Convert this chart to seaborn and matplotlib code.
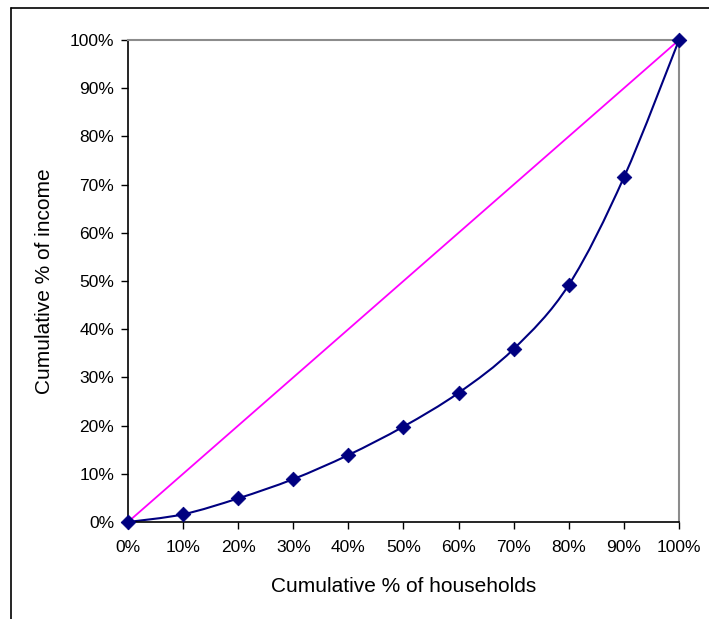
import numpy as np
import pandas as pd
import seaborn as sns
import matplotlib.pyplot as plt
from matplotlib.path import Path
from matplotlib.patches import PathPatch
from matplotlib.lines import Line2D
from matplotlib.ticker import PercentFormatter

# cumulative shares (fractions)
households = [0.0, 0.1, 0.2, 0.3, 0.4, 0.5, 0.6, 0.7, 0.8, 0.9, 1.0]
income = [0.0, 0.016, 0.049, 0.089, 0.139, 0.198, 0.268, 0.359, 0.492, 0.715, 1.0]
equality = [0.0, 1.0]

df = pd.DataFrame({"households": households, "income": income})
eq = pd.DataFrame({"x": equality, "y": equality})

sns.set_style("white")
plt.rcParams["font.family"] = ["Liberation Sans", "DejaVu Sans"]
plt.rcParams["text.color"] = "black"
plt.rcParams["axes.labelcolor"] = "black"

fig = plt.figure(figsize=(7.09, 6.19), dpi=100)
ax = fig.add_axes([0.1805, 0.1567, 0.7772, 0.7787])

sns.lineplot(data=eq, x="x", y="y", color="#FF00FF", lw=1.3, ax=ax)

# smoothed curve (Catmull-Rom -> cubic bezier) like Excel's smoothed line
x = np.array(households)
y = np.array(income)
verts = [(x[0], y[0])]
codes = [Path.MOVETO]
n = len(x)
for i in range(n - 1):
    p0 = (x[max(i - 1, 0)], y[max(i - 1, 0)])
    p1 = (x[i], y[i])
    p2 = (x[i + 1], y[i + 1])
    p3 = (x[min(i + 2, n - 1)], y[min(i + 2, n - 1)])
    c1 = (p1[0] + (p2[0] - p0[0]) / 6, p1[1] + (p2[1] - p0[1]) / 6)
    c2 = (p2[0] - (p3[0] - p1[0]) / 6, p2[1] - (p3[1] - p1[1]) / 6)
    verts += [c1, c2, p2]
    codes += [Path.CURVE4] * 3
ax.add_patch(PathPatch(Path(verts, codes), fill=False, edgecolor="#000080", lw=1.5, clip_on=False))

sns.scatterplot(data=df, x="households", y="income", marker="D", s=55, color="#000080",
                edgecolor="#000080", zorder=5, clip_on=False, ax=ax)

ax.set_xlim(0, 1)
ax.set_ylim(0, 1)
ax.set_xticks(np.arange(0, 1.01, 0.1))
ax.set_yticks(np.arange(0, 1.01, 0.1))
ax.xaxis.set_major_formatter(PercentFormatter(1.0, decimals=0))
ax.yaxis.set_major_formatter(PercentFormatter(1.0, decimals=0))
ax.tick_params(axis="both", labelsize=12.5, direction="out", length=5, width=1,
               colors="black", bottom=True, left=True)
ax.tick_params(axis="y", pad=5)
ax.tick_params(axis="x", pad=8)

for s in ["left", "bottom"]:
    ax.spines[s].set_color("black")
    ax.spines[s].set_linewidth(1.2)
for s in ["top", "right"]:
    ax.spines[s].set_color("#8c8c8c")
    ax.spines[s].set_linewidth(1.5)

ax.set_xlabel("Cumulative % of households", fontsize=15, labelpad=16)
ax.set_ylabel("Cumulative % of income", fontsize=15, labelpad=11)

# outer chart border (only left and top visible)
fig.add_artist(Line2D([11 / 709, 11 / 709], [0, 1 - 8 / 619], color="black", lw=1.2))
fig.add_artist(Line2D([11 / 709, 1], [1 - 8 / 619, 1 - 8 / 619], color="black", lw=1.2))

fig.savefig("out.png", dpi=100)
